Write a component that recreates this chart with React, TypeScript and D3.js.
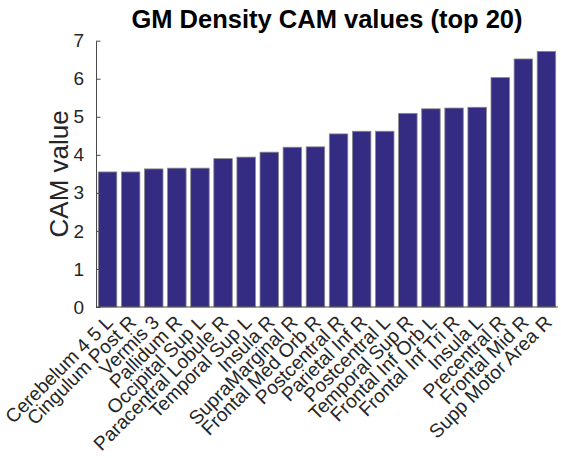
import React, { useRef, useEffect } from "react";
import * as d3 from "d3";

const regions = [
  "Cerebelum 4 5 L",
  "Cingulum Post R",
  "Vermis 3",
  "Pallidum R",
  "Occipital Sup L",
  "Paracentral Lobule R",
  "Temporal Sup L",
  "Insula R",
  "SupraMarginal R",
  "Frontal Med Orb R",
  "Postcentral R",
  "Parietal Inf R",
  "Postcentral L",
  "Temporal Sup R",
  "Frontal Inf Orb L",
  "Frontal Inf Tri R",
  "Insula L",
  "Precentral R",
  "Frontal Mid R",
  "Supp Motor Area R",
];
const camValues = [
  3.55, 3.55, 3.63, 3.65, 3.65, 3.9, 3.94, 4.07, 4.2, 4.21,
  4.55, 4.62, 4.62, 5.09, 5.21, 5.23, 5.25, 6.03, 6.52, 6.72,
];
const yTicks = [0, 1, 2, 3, 4, 5, 6, 7];

const CHART_CONFIG = {
  width: 561,
  height: 458,
  margin: { top: 40.7, right: 3, bottom: 151, left: 96 },
  font: "'Liberation Sans', Arial, Helvetica, sans-serif",
  barFill: "#342b82",
  barEdge: "#8a8a8a",
  axisColor: "#4a4a4a",
};

export default function App() {
  const ref = useRef<SVGSVGElement | null>(null);

  useEffect(() => {
    const svgEl = ref.current;
    if (!svgEl) return;
    const svg = d3.select(svgEl);
    svg.selectAll("*").remove();

    const { width, height, margin, font } = CHART_CONFIG;
    const innerW = width - margin.left - margin.right;
    const innerH = height - margin.top - margin.bottom;

    const x = d3.scaleBand().domain(regions).range([0, innerW]).paddingInner(0.2).paddingOuter(0.1);
    const y = d3.scaleLinear().domain([0, 7]).range([innerH, 0]);

    const g = svg.append("g").attr("transform", `translate(${margin.left},${margin.top})`);

    g.selectAll("rect.bar")
      .data(regions)
      .join("rect")
      .attr("class", "bar")
      .attr("x", (d) => x(d)!)
      .attr("y", (d, i) => y(camValues[i]))
      .attr("width", x.bandwidth())
      .attr("height", (d, i) => innerH - y(camValues[i]))
      .attr("fill", CHART_CONFIG.barFill)
      .attr("stroke", CHART_CONFIG.barEdge)
      .attr("stroke-width", 0.8);

    // y axis, ticks pointing inward like matlab
    const yAxis = g
      .append("g")
      .call(
        d3
          .axisLeft(y)
          .tickValues(yTicks)
          .tickFormat(d3.format("d"))
          .tickSizeInner(-4.5)
          .tickSizeOuter(0)
          .tickPadding(12)
      );
    yAxis.select(".domain").attr("stroke", CHART_CONFIG.axisColor);
    yAxis.selectAll("line").attr("stroke", CHART_CONFIG.axisColor);
    yAxis
      .selectAll("text")
      .attr("font-family", font)
      .attr("font-size", 19)
      .attr("fill", "#262626");

    // x axis line
    g.append("line")
      .attr("x1", 0)
      .attr("x2", innerW)
      .attr("y1", innerH)
      .attr("y2", innerH)
      .attr("stroke", CHART_CONFIG.axisColor);

    // rotated category labels
    g.selectAll("text.xlab")
      .data(regions)
      .join("text")
      .attr("class", "xlab")
      .attr("transform", (d) => `translate(${x(d)! + x.bandwidth() / 2 + 2},${innerH + 12}) rotate(-45)`)
      .attr("text-anchor", "end")
      .attr("dominant-baseline", "central")
      .attr("font-family", font)
      .attr("font-size", 19.3)
      .attr("fill", "#262626")
      .text((d) => d);

    svg
      .append("text")
      .attr("transform", `translate(68,${margin.top + innerH / 2}) rotate(-90)`)
      .attr("text-anchor", "middle")
      .attr("font-family", font)
      .attr("font-size", 26)
      .attr("fill", "#262626")
      .text("CAM value");

    svg
      .append("text")
      .attr("x", margin.left + innerW / 2)
      .attr("y", 27.5)
      .attr("text-anchor", "middle")
      .attr("font-family", font)
      .attr("font-size", 25.5)
      .attr("font-weight", "bold")
      .attr("fill", "#000")
      .text("GM Density CAM values (top 20)");
  }, []);

  return (
    <svg
      ref={ref}
      width={CHART_CONFIG.width}
      height={CHART_CONFIG.height}
      style={{ position: "absolute", left: 0, top: 0, background: "#fff" }}
    />
  );
}
